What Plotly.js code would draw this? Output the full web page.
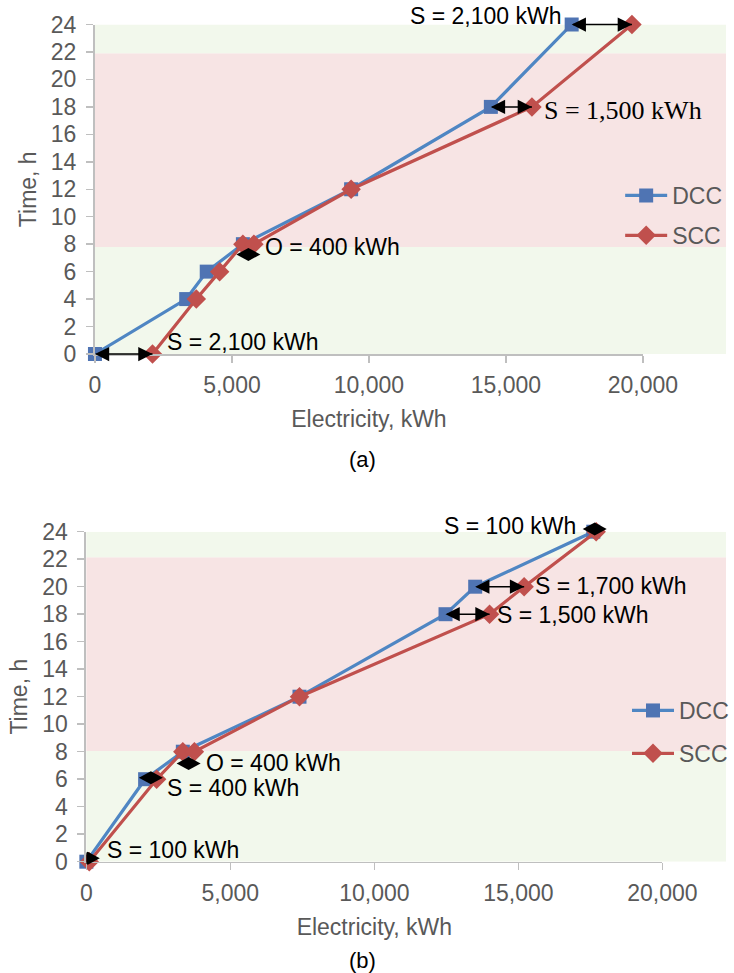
<!DOCTYPE html>
<html>
<head>
<meta charset="utf-8">
<script src="https://cdn.plot.ly/plotly-3.0.1.min.js"></script>
<style>html,body{margin:0;padding:0;background:#fff;}#chart{width:734px;height:973px;}</style>
</head>
<body>
<div id="chart"></div>
<script>
// ---------- data ----------
const seriesNames = ['DCC', 'SCC'];
const timeTicks = [0, 2, 4, 6, 8, 10, 12, 14, 16, 18, 20, 22, 24];
const timeMax = 24;
const elecTicks = [0, 5000, 10000, 15000, 20000];
const elecTickText = ['0', '5,000', '10,000', '15,000', '20,000'];

// panel (a)
const aDccX = [0, 3330, 4080, 5400, 9350, 14450, 17400];
const aDccY = [0, 4, 6, 8, 12, 18, 24];
const aSccX = [2100, 3700, 4550, 5400, 5800, 9350, 15950, 19600];
const aSccY = [0, 4, 6, 8, 8, 12, 18, 24];
// bands (a): [from, to] in hours
const aBandGreenLow = [0, 7.8];
const aBandPink = [7.8, 21.9];
const aBandGreenHigh = [21.9, 24];
// arrows (a): [fromX, toX, y]
const aArrows = [[17400, 19600, 24], [14450, 15950, 18], [5400, 5800, 7.25], [0, 2100, 0]];
// labels (a): [text, x, y, anchor, serif]
const aLabels = [
  ['S = 2,100 kWh', 17130, 24.6, 'right', false],
  ['S = 1,500 kWh', 16300, 17.75, 'left', true],
  ['O = 400 kWh', 6150, 7.8, 'left', false],
  ['S = 2,100 kWh', 2550, 0.9, 'left', false]
];

// panel (b)
const bDccX = [0, 2040, 3350, 7400, 12470, 13500, 17600];
const bDccY = [0, 6, 8, 12, 18, 20, 24];
const bSccX = [100, 2440, 3350, 3750, 7400, 14000, 15200, 17700];
const bSccY = [0, 6, 8, 8, 12, 18, 20, 24];
const bBandGreenLow = [0, 8.05];
const bBandPink = [8.05, 22.15];
const bBandGreenHigh = [22.15, 24];
const bArrows = [[17600, 17700, 24.2], [13500, 15200, 20], [12470, 14000, 18], [3350, 3750, 7.15], [2040, 2440, 6.1], [0, 100, 0.25]];
const bLabels = [
  ['S = 100 kWh', 17070, 24.41, 'right', false],
  ['S = 1,700 kWh', 15500, 20.05, 'left', false],
  ['S = 1,500 kWh', 14200, 17.94, 'left', false],
  ['O = 400 kWh', 4080, 7.18, 'left', false],
  ['S = 400 kWh', 2740, 5.36, 'left', false],
  ['S = 100 kWh', 650, 0.85, 'left', false]
];

// ---------- styles ----------
const W = 734, H = 973;
const SANS = '"Liberation Sans", Arial, sans-serif';
const SERIF = '"Liberation Serif", "Times New Roman", serif';
const GRAY = '#595959';
const AXIS = '#BFBFBF';
const BLUE_LINE = '#4F86C3', BLUE_MK = '#4F74B3';
const RED_LINE = '#C0504D', RED_MK = '#C0504D';
const GREEN_BAND = '#F2F8EC', PINK_BAND = '#F7E4E4';
const px = (v) => v / W;
const py = (v) => 1 - v / H;

const aDomPx = [96, 650];
const bDomPx = [87.3, 669.7];
const aDom = [px(aDomPx[0]), px(aDomPx[1])];
const bDom = [px(bDomPx[0]), px(bDomPx[1])];
const HEADLEN = 12;

function series(x, y, name, xa, ya, legend, isBlue) {
  return {
    type: 'scatter', mode: 'lines+markers', x: x, y: y, name: name,
    xaxis: xa, yaxis: ya, legend: legend, legendgroup: legend + name,
    cliponaxis: false,
    line: {color: isBlue ? BLUE_LINE : RED_LINE, width: 3.2},
    marker: {symbol: isBlue ? 'square' : 'diamond', size: isBlue ? 14 : 15,
             color: isBlue ? BLUE_MK : RED_MK, line: {width: 0}}
  };
}

const data = [
  series(aDccX, aDccY, seriesNames[0], 'x', 'y', 'legend', true),
  series(aSccX, aSccY, seriesNames[1], 'x', 'y', 'legend', false),
  series(bDccX, bDccY, seriesNames[0], 'x2', 'y2', 'legend2', true),
  series(bSccX, bSccY, seriesNames[1], 'x2', 'y2', 'legend2', false)
];

function isShort(a, domPx) {
  const pxPerUnit = (domPx[1] - domPx[0]) / (elecTicks[elecTicks.length - 1] - elecTicks[0]);
  return (a[1] - a[0]) * pxPerUnit <= 2 * HEADLEN;
}

// bands reach from the left of the plot to the right edge of the figure
function bands(x0Paper, yref, list) {
  return list.map(([r, c]) => ({
    type: 'rect', layer: 'below', xref: 'paper', yref: yref,
    x0: x0Paper, x1: 1, y0: r[0], y1: r[1], fillcolor: c, line: {width: 0}
  }));
}

// very short double arrows: the two heads merge into a black diamond at the midpoint
function shortArrowShapes(list, xr, yr, domPx) {
  return list.filter(a => isShort(a, domPx)).map(([x0, x1, y]) => ({
    type: 'path', layer: 'above', xref: xr, yref: yr + ' domain',
    xsizemode: 'pixel', ysizemode: 'pixel',
    xanchor: (x0 + x1) / 2, yanchor: y / timeMax,
    path: 'M-12,0 L0,6.5 L12,0 L0,-6.5 Z',
    fillcolor: '#000000', line: {width: 0}
  }));
}

const shapes = [
  ...bands(aDom[0], 'y', [[aBandGreenLow, GREEN_BAND], [aBandPink, PINK_BAND], [aBandGreenHigh, GREEN_BAND]]),
  ...bands(bDom[0], 'y2', [[bBandGreenLow, GREEN_BAND], [bBandPink, PINK_BAND], [bBandGreenHigh, GREEN_BAND]]),
  ...shortArrowShapes(aArrows, 'x', 'y', aDomPx),
  ...shortArrowShapes(bArrows, 'x2', 'y2', bDomPx)
];

const HEAD = {arrowhead: 2, arrowsize: 1.9, startarrowhead: 2, startarrowsize: 1.9,
              arrowwidth: 1.5, arrowcolor: '#000000', standoff: 0, startstandoff: 0};
function arrows(list, xr, yr, domPx) {
  const out = [];
  list.filter(a => !isShort(a, domPx)).forEach(([x0, x1, y]) => {
    const yd = y / timeMax;
    // shaft
    out.push({xref: xr, yref: yr + ' domain', axref: xr, ayref: 'pixel',
      x: x1, y: yd, ax: x0, ay: 0, text: '', showarrow: true,
      arrowhead: 0, arrowwidth: 1.5, arrowcolor: '#000000', standoff: 0, startstandoff: 0});
    out.push(Object.assign({xref: xr, yref: yr + ' domain', axref: 'pixel', ayref: 'pixel',
      x: x1, y: yd, ax: -10, ay: 0, text: '', showarrow: true, arrowside: 'end'}, HEAD));
    out.push(Object.assign({xref: xr, yref: yr + ' domain', axref: 'pixel', ayref: 'pixel',
      x: x0, y: yd, ax: 10, ay: 0, text: '', showarrow: true, arrowside: 'end'}, HEAD));
  });
  return out;
}
function labels(list, xr, yr) {
  return list.map(([t, x, y, anc, serif]) => ({
    xref: xr, yref: yr + ' domain', x: x, y: y / timeMax, text: t, showarrow: false,
    xanchor: anc, yanchor: 'middle',
    font: {family: serif ? SERIF : SANS, size: serif ? 26 : 23, color: '#000000'}
  }));
}

const annotations = [
  ...arrows(aArrows, 'x', 'y', aDomPx),
  ...arrows(bArrows, 'x2', 'y2', bDomPx),
  ...labels(aLabels, 'x', 'y'),
  ...labels(bLabels, 'x2', 'y2'),
  {xref: 'paper', yref: 'paper', x: px(366), y: py(459), text: '(a)', showarrow: false,
   xanchor: 'center', yanchor: 'middle', font: {family: SANS, size: 22, color: '#000'}},
  {xref: 'paper', yref: 'paper', x: px(366), y: py(960), text: '(b)', showarrow: false,
   xanchor: 'center', yanchor: 'middle', font: {family: SANS, size: 22, color: '#000'}}
];

function xaxis(domain, anchor) {
  return {
    domain: domain, range: [elecTicks[0], elecTicks[elecTicks.length - 1]], anchor: anchor,
    showgrid: false, zeroline: false,
    showline: true, linecolor: AXIS, linewidth: 1.5,
    tickmode: 'array', tickvals: elecTicks, ticktext: elecTickText,
    ticks: 'outside', ticklen: 7, tickwidth: 1.5, tickcolor: AXIS, ticklabelstandoff: 3,
    tickfont: {family: SANS, size: 23, color: GRAY},
    title: {text: 'Electricity, kWh', font: {family: SANS, size: 23, color: GRAY}, standoff: 14},
    fixedrange: true
  };
}
function yaxis(domain, anchor) {
  return {
    domain: domain, range: [0, timeMax], anchor: anchor, showgrid: false, zeroline: false,
    showline: true, linecolor: AXIS, linewidth: 2,
    tickmode: 'array', tickvals: timeTicks,
    ticks: 'outside', ticklen: 7, tickwidth: 1.5, tickcolor: AXIS, ticklabelstandoff: 5,
    tickfont: {family: SANS, size: 23, color: GRAY},
    title: {text: 'Time, h', font: {family: SANS, size: 23, color: GRAY}, standoff: 8},
    fixedrange: true
  };
}

const layout = {
  width: W, height: H, margin: {l: 0, r: 0, t: 0, b: 0},
  paper_bgcolor: '#ffffff', plot_bgcolor: 'rgba(0,0,0,0)',
  font: {family: SANS, color: GRAY},
  xaxis: xaxis(aDom, 'y'),
  yaxis: yaxis([py(354), py(24.5)], 'x'),
  xaxis2: xaxis(bDom, 'y2'),
  yaxis2: yaxis([py(861.7), py(531.7)], 'x2'),
  showlegend: true,
  legend: {x: px(627), y: py(174), xanchor: 'left', yanchor: 'top', bgcolor: 'rgba(0,0,0,0)',
           font: {family: SANS, size: 23, color: GRAY}, tracegroupgap: 7, itemwidth: 42},
  legend2: {x: px(634), y: py(689), xanchor: 'left', yanchor: 'top', bgcolor: 'rgba(0,0,0,0)',
           font: {family: SANS, size: 23, color: GRAY}, tracegroupgap: 10, itemwidth: 42},
  shapes: shapes,
  annotations: annotations
};

Plotly.newPlot('chart', data, layout, {staticPlot: true, displayModeBar: false});
</script>
</body>
</html>
